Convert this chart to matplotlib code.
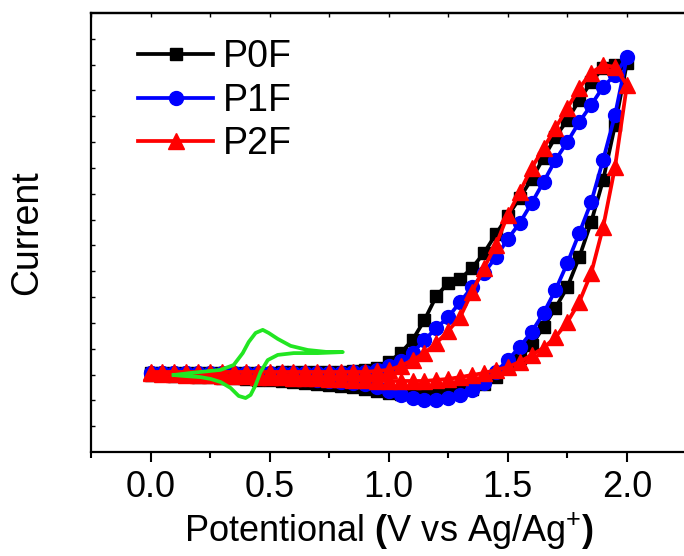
import matplotlib
matplotlib.use("Agg")
import matplotlib.pyplot as plt
from matplotlib.ticker import MultipleLocator
import numpy as np

plt.rcParams['font.family'] = ['Liberation Sans', 'DejaVu Sans']
plt.rcParams['mathtext.fontset'] = 'custom'
plt.rcParams['mathtext.rm'] = 'Liberation Sans'
plt.rcParams['mathtext.bf'] = 'Liberation Sans:bold'

# potential grid of the markers (V), forward part 0 -> 2.0, back part 1.95 -> 0
v_fwd = [0.0, 0.05, 0.1, 0.15, 0.2, 0.25, 0.3, 0.35, 0.4, 0.45, 0.5, 0.55, 0.6, 0.65,
         0.7, 0.75, 0.8, 0.85, 0.9, 0.95, 1.0, 1.05, 1.1, 1.15, 1.2, 1.25, 1.3, 1.35,
         1.4, 1.45, 1.5, 1.55, 1.6, 1.65, 1.7, 1.75, 1.8, 1.85, 1.9, 1.95, 2.0]
v_back = v_fwd[-2::-1]

# P0F (black squares)
p0f_fwd = [3.06, 3.06, 3.06, 3.06, 3.06, 3.06, 3.06, 3.06, 3.06, 3.06, 3.06, 3.10, 3.10, 3.10,
           3.10, 3.10, 3.10, 3.14, 3.18, 3.25, 3.49, 3.83, 4.34, 5.11, 6.04, 6.55, 6.70, 7.13,
           7.71, 8.44, 9.14, 9.84, 10.57, 11.39, 12.20, 12.86, 13.63, 14.33, 14.87, 14.99, 15.07]
p0f_back = [12.66, 10.53, 8.91, 7.55, 6.39, 5.58, 4.84, 4.14, 3.64, 3.25, 2.90, 2.63, 2.44,
            2.33, 2.25, 2.21, 2.21, 2.21, 2.25, 2.29, 2.36, 2.44, 2.52, 2.56, 2.60, 2.63,
            2.67, 2.71, 2.75, 2.77, 2.79, 2.83, 2.85, 2.87, 2.90, 2.92, 2.94, 2.96, 2.98, 2.98]

# P1F (blue circles)
p1f_fwd = [3.06, 3.06, 3.06, 3.06, 3.06, 3.06, 3.06, 3.06, 3.06, 3.06, 3.06, 3.06, 3.06, 3.06,
           3.06, 3.06, 3.06, 3.08, 3.10, 3.18, 3.33, 3.52, 3.83, 4.34, 4.80, 5.23, 5.81, 6.39,
           6.93, 7.55, 8.25, 8.87, 9.64, 10.46, 11.31, 12.01, 12.78, 13.44, 14.14, 14.60, 15.30]
p1f_back = [13.05, 11.31, 9.68, 8.48, 7.32, 6.27, 5.38, 4.65, 4.07, 3.56, 3.10, 2.67, 2.40,
            2.21, 2.09, 2.01, 2.01, 2.09, 2.21, 2.36, 2.52, 2.63, 2.67, 2.71, 2.75, 2.79,
            2.83, 2.87, 2.90, 2.92, 2.94, 2.96, 2.98, 3.00, 3.02, 3.02, 3.04, 3.04, 3.06, 3.06]

# P2F (red triangles)
p2f_fwd = [3.10, 3.10, 3.10, 3.10, 3.10, 3.10, 3.10, 3.10, 3.10, 3.10, 3.10, 3.10, 3.10, 3.10,
           3.10, 3.10, 3.10, 3.10, 3.10, 3.14, 3.18, 3.33, 3.56, 3.83, 4.22, 4.69, 5.23, 6.20,
           7.13, 8.02, 9.18, 10.07, 11.00, 11.77, 12.55, 13.32, 14.10, 14.68, 14.99, 14.91, 14.21]
p2f_back = [11.04, 8.71, 6.93, 5.81, 5.03, 4.45, 4.03, 3.76, 3.49, 3.29, 3.18, 3.06, 2.98,
            2.90, 2.83, 2.79, 2.75, 2.75, 2.75, 2.75, 2.75, 2.77, 2.79, 2.81, 2.83, 2.85,
            2.87, 2.87, 2.90, 2.90, 2.92, 2.94, 2.94, 2.96, 2.98, 2.98, 3.00, 3.02, 3.02, 3.04]

# reference CV (green, no markers)
ref_v = [0.097, 0.168, 0.210, 0.252, 0.294, 0.349, 0.387, 0.412, 0.441, 0.471, 0.496, 0.534,
         0.588, 0.660, 0.744, 0.807, 0.702, 0.601, 0.534, 0.492, 0.462, 0.441, 0.420, 0.399,
         0.370, 0.336, 0.294, 0.252, 0.210, 0.147, 0.097]
ref_i = [2.98, 3.06, 3.10, 3.14, 3.18, 3.37, 3.83, 4.26, 4.61, 4.73, 4.61, 4.38,
         4.11, 3.95, 3.87, 3.87, 3.83, 3.83, 3.76, 3.56, 3.10, 2.59, 2.21, 2.09,
         2.17, 2.48, 2.71, 2.83, 2.90, 2.94, 2.98]

fig = plt.figure(figsize=(6.84, 5.56), dpi=100)
ax = fig.add_axes([91/684, 1 - 452/556, 595.5/684, 439/556])

ax.plot(v_fwd + v_back, p0f_fwd + p0f_back, color='black', lw=2.7,
        marker='s', ms=9, label='P0F')
ax.plot(v_fwd + v_back, p1f_fwd + p1f_back, color='#0000ff', lw=2.7,
        marker='o', ms=10, label='P1F')
ax.plot(v_fwd + v_back, p2f_fwd + p2f_back, color='#ff0000', lw=2.7,
        marker='^', ms=11, label='P2F')
ax.plot(ref_v, ref_i, color='#22e622', lw=2.7)

ax.set_xlim(-0.25, 2.25)
ax.set_ylim(0, 17)

ax.xaxis.set_major_locator(MultipleLocator(0.5))
ax.xaxis.set_minor_locator(MultipleLocator(0.25))
ax.set_yticks(np.arange(1, 17))
ax.tick_params(axis='x', which='major', direction='out', length=7, width=1.5,
               labelsize=26, pad=6, top=False)
ax.tick_params(axis='x', which='minor', direction='out', length=4, width=1.5, top=False)
ax.tick_params(axis='y', which='both', direction='in', length=3, width=1,
               labelleft=False, right=False)

top = ax.secondary_xaxis('top')
top.xaxis.set_major_locator(MultipleLocator(0.25))
top.tick_params(direction='in', length=3, width=1, labeltop=False)

for s in ax.spines.values():
    s.set_linewidth(1.6)
top.spines['top'].set_linewidth(1.6)

ax.set_xlabel(r'Potentional $\mathbf{(}$V vs Ag/Ag$^{+}$$\mathbf{)}$', fontsize=26, labelpad=4)
ax.set_ylabel('Current', fontsize=27, labelpad=33)

ax.legend(loc='upper left', bbox_to_anchor=(0.035, 1.0), frameon=False, fontsize=27,
          handlelength=2.0, handletextpad=0.25, labelspacing=0.2, borderpad=0.2)

fig.savefig('out.png', dpi=100)
